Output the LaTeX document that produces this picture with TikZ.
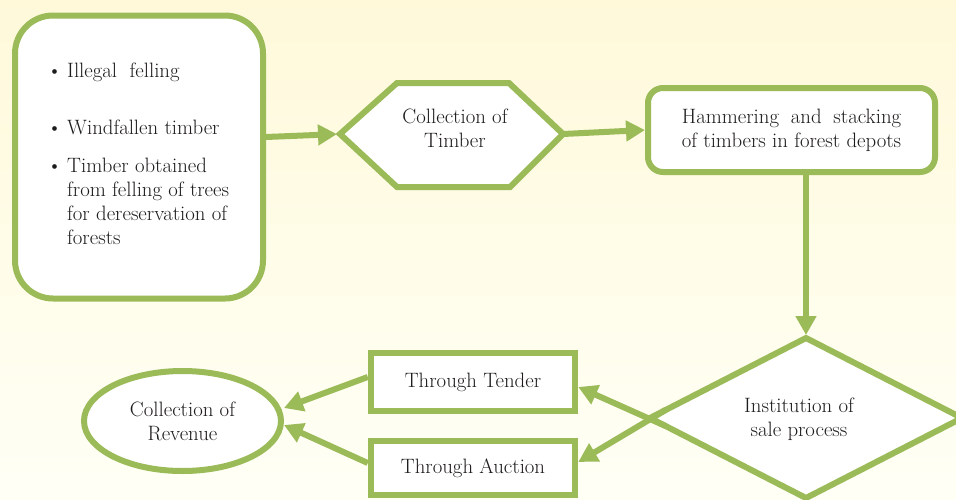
\documentclass[tikz,border=0pt]{standalone}
\usetikzlibrary{arrows.meta,shapes.geometric,calc}
\definecolor{leaf}{RGB}{155,187,89}
\definecolor{ink}{RGB}{30,27,28}
\definecolor{bgtop}{RGB}{255,249,218}
\definecolor{bgbot}{RGB}{255,255,246}
\begin{document}
\begin{tikzpicture}[x=1pt,y=-1pt,
  every node/.style={font=\rmfamily\fontsize{20.8}{24}\selectfont, text=ink},
  frame/.style={draw=leaf, line width=6pt, fill=white},
  conn/.style={draw=leaf, line width=6pt, -{Triangle[length=19pt,width=20pt]}},
]
\fill[top color=bgtop, bottom color=bgbot] (0,0) rectangle (956,499);
\useasboundingbox (0,0) rectangle (956,499);

% source box
\node[frame, rounded corners=38pt, minimum width=248pt, minimum height=283pt, inner sep=0] (src) at (139,157) {};
\node[anchor=base west, inner sep=0] (list) at (47,77) {%
  \begin{tabular}[t]{@{}l@{}l@{}}
  \makebox[20pt][l]{\textbullet} & Illegal~ felling\\[33pt]
  \makebox[20pt][l]{\textbullet} & Windfallen timber\\[14pt]
  \makebox[20pt][l]{\textbullet} & Timber obtained\\
   & from felling of trees\\
   & for dereservation of\\
   & forests
  \end{tabular}};

% hexagon
\coordinate (hw) at (340,134);
\coordinate (he) at (563,134);
\filldraw[frame] (hw) -- (397,83) -- (509,83) -- (he) -- (510,187) -- (397,187) -- cycle;
\node[align=center] (hex) at (455,128) {Collection of\\Timber};

% hammering box
\node[frame, rounded corners=15pt, minimum width=287pt, minimum height=84pt, inner sep=0, align=center] (hb) at (791.5,130) {\global\setbox1=\hbox{of timbers in forest depots}\makebox[\wd1][s]{Hammering and stacking}\\\copy1};

% diamond
\node[diamond, frame, outer sep=0pt, minimum width=312pt, minimum height=160pt, inner sep=0] (dm) at (806,418) {};
\node[align=center] (dmt) at (799,419) {Institution of\\sale process};

% sale routes
\node[frame, line width=6.5pt, minimum width=204pt, minimum height=58pt, inner sep=0] (tender) at (473,382) {Through Tender};
\node[frame, line width=6.5pt, minimum width=204pt, minimum height=54pt, inner sep=0] (auction) at (473,468) {Through Auction};

% revenue
\node[ellipse, frame, minimum width=197pt, minimum height=100pt, inner sep=0, align=center] (rev) at (182.5,421) {Collection of\\Revenue};

% connectors
\draw[conn, shorten >=3pt] ([yshift=20pt]src.east) -- (hw);
\draw[conn] (he) -- (hb.west);
\draw[conn, shorten >=3pt] (hb.south -| dm.north) -- (dm.north);
\draw[conn] ($(dm.west)!0.1!(dm.south)$) -- ([yshift=-5pt]tender.east);
\draw[conn] ($(dm.west)!0.1!(dm.north)$) -- ([yshift=6pt]auction.east);
\draw[conn] ([yshift=5pt]tender.west) -- ([yshift=13pt]rev.east);
\draw[conn] ([yshift=5pt]auction.west) -- ([yshift=-4pt]rev.east);
\end{tikzpicture}
\end{document}
